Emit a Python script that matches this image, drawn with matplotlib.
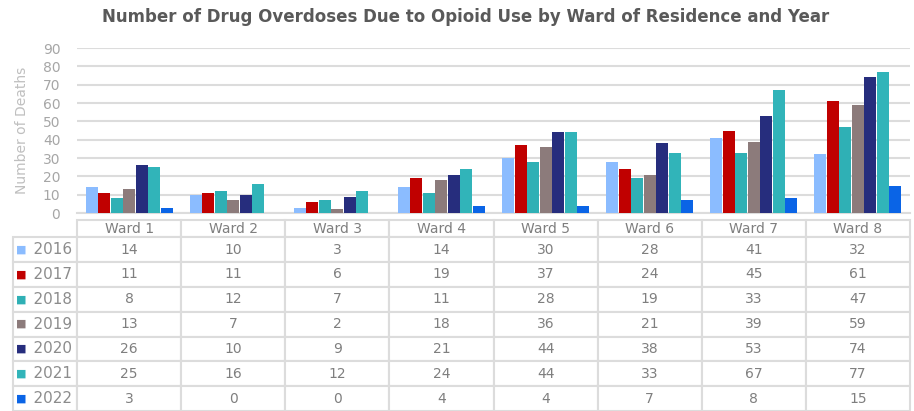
import matplotlib
matplotlib.use("Agg")
import matplotlib.pyplot as plt
from matplotlib.table import Table
import numpy as np

wards = ["Ward 1", "Ward 2", "Ward 3", "Ward 4", "Ward 5", "Ward 6", "Ward 7", "Ward 8"]
years = ["2016", "2017", "2018", "2019", "2020", "2021", "2022"]
v2016 = [14, 10, 3, 14, 30, 28, 41, 32]
v2017 = [11, 11, 6, 19, 37, 24, 45, 61]
v2018 = [8, 12, 7, 11, 28, 19, 33, 47]
v2019 = [13, 7, 2, 18, 36, 21, 39, 59]
v2020 = [26, 10, 9, 21, 44, 38, 53, 74]
v2021 = [25, 16, 12, 24, 44, 33, 67, 77]
v2022 = [3, 0, 0, 4, 4, 7, 8, 15]
series = [v2016, v2017, v2018, v2019, v2020, v2021, v2022]
colors = ["#8bbcff", "#c00000", "#2fb0b5", "#8c7b7b", "#262d7d", "#31b4b9", "#0a64e6"]

title = "Number of Drug Overdoses Due to Opioid Use by Ward of Residence and Year"
ylabel = "Number of Deaths"

W, H = 914, 411
fig = plt.figure(figsize=(W / 100, H / 100), dpi=100)
fig.patch.set_facecolor("white")

x0, x1 = 77, 910
y0, y1 = 213, 48
ax = fig.add_axes([x0 / W, 1 - y0 / H, (x1 - x0) / W, (y0 - y1) / H])

txt = "#7f7f7f"
grid = "#dcdcdc"

x = np.arange(len(wards))
bw = 0.12
n = len(series)
for i, (vals, c) in enumerate(zip(series, colors)):
    ax.bar(x + (i - (n - 1) / 2) * bw, vals, width=bw * 0.96, color=c, zorder=3)

ax.set_xlim(-0.5, len(wards) - 0.5)
ax.set_ylim(0, 90)
ax.set_yticks(range(0, 91, 10))
ax.yaxis.grid(True, color=grid, linewidth=1.5, zorder=0)
ax.set_axisbelow(True)
for s in ["top", "right", "left"]:
    ax.spines[s].set_visible(False)
ax.spines["bottom"].set_color(grid)
ax.spines["bottom"].set_linewidth(1.5)
ax.tick_params(axis="y", length=0, labelsize=10, labelcolor="#a6a6a6", pad=12)
ax.tick_params(axis="x", length=0, labelbottom=False)
ax.set_ylabel(ylabel, fontsize=10, color="#bfbfbf", labelpad=10)

fig.text(466 / W, 1 - 17 / H, title, ha="center", va="center", fontsize=12,
         fontweight="bold", color="#595959")

# table built from the data
axh = y0 - y1
tb_left, tb_right, tb_top, tb_bot = 13, 910, 220, 411
tab = Table(ax, bbox=[(tb_left - x0) / (x1 - x0), -(tb_bot - y0) / axh,
                      (tb_right - tb_left) / (x1 - x0), (tb_bot - tb_top) / axh])
rw, cw, hh, rh = 64, 104, 17, 24.5
for j, wname in enumerate(wards):
    tab.add_cell(0, j + 1, width=cw, height=hh, text=wname, loc="center")
for i, (yr, vals) in enumerate(zip(years, series)):
    tab.add_cell(i + 1, 0, width=rw, height=rh, text="    " + yr, loc="left")
    for j, v in enumerate(vals):
        tab.add_cell(i + 1, j + 1, width=cw, height=rh, text=str(v), loc="center")
tab.auto_set_font_size(False)
for (r, c), cell in tab.get_celld().items():
    cell.set_edgecolor(grid)
    cell.set_linewidth(1.5)
    t = cell.get_text()
    t.set_fontsize(10)
    t.set_color(txt)
    if c == 0:
        t.set_fontsize(11)
        t.set_color("#8c8c8c")
        cell.PAD = 0.02
ax.add_table(tab)

fig.canvas.draw()
for i, c in enumerate(colors):
    cell = tab[i + 1, 0]
    ax.annotate("\u25A0", xy=(0.13, 0.5), xycoords=cell, ha="center", va="center",
                fontsize=8, color=c, annotation_clip=False)

fig.savefig("out.png", dpi=100, facecolor="white")
